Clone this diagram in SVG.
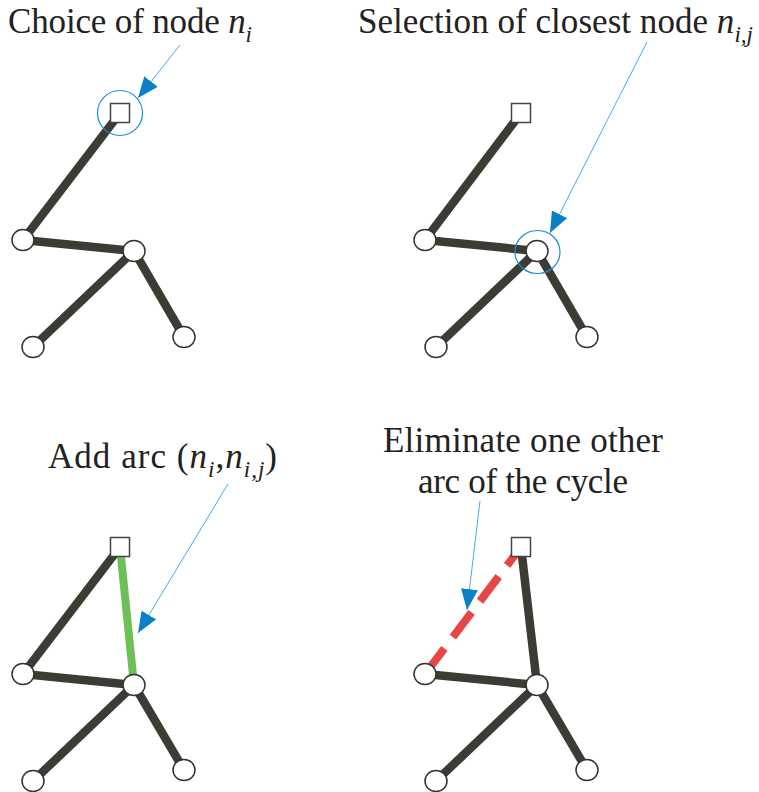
<svg xmlns="http://www.w3.org/2000/svg" width="759" height="792" viewBox="0 0 759 792">
<style>
.edge{stroke:#3c3c34;stroke-width:8.5;fill:none;stroke-linecap:butt}
.green{stroke:#6dbf58;stroke-width:8;fill:none}
.red{stroke:#e84545;stroke-width:8;fill:none;stroke-dasharray:31 14;stroke-dashoffset:8}
.node{fill:#fff;stroke:#333;stroke-width:1.5}
.sq{fill:#fff;stroke:#444;stroke-width:1.5}
.ring{fill:none;stroke:#1a8fd0;stroke-width:1.2}
.ptr{stroke:#45aee0;stroke-width:1;fill:none;marker-end:url(#ah)}
.lbl{font-family:"Liberation Serif","Times New Roman",serif;font-size:35px;fill:#222}
.m{font-style:italic}
.s{font-style:italic;font-size:23px}
</style>
<defs>
<marker id="ah" markerUnits="userSpaceOnUse" markerWidth="22" markerHeight="18" refX="21" refY="8.5" orient="auto">
<path d="M0,0 L21,8.5 L0,17 z" fill="#0a80c6"/>
</marker>
</defs>

<g id="connectors">
<line class="edge" x1="120" y1="113" x2="23" y2="240"/>
<line class="edge" x1="23" y1="240" x2="134" y2="251"/>
<line class="edge" x1="134" y1="251" x2="33" y2="347"/>
<line class="edge" x1="134" y1="251" x2="184" y2="337"/>
<line class="edge" x1="521" y1="113" x2="425" y2="240"/>
<line class="edge" x1="425" y1="240" x2="537" y2="251"/>
<line class="edge" x1="537" y1="251" x2="436" y2="347"/>
<line class="edge" x1="537" y1="251" x2="587" y2="337"/>
<line class="edge" x1="120" y1="547" x2="23" y2="674"/>
<line class="edge" x1="23" y1="674" x2="134" y2="685"/>
<line class="edge" x1="134" y1="685" x2="33" y2="781"/>
<line class="edge" x1="134" y1="685" x2="184" y2="770"/>
<line class="green" x1="120" y1="547" x2="134" y2="685"/>
<path class="red" d="M521,547 L425,674"/>
<line class="edge" x1="425" y1="674" x2="537" y2="685"/>
<line class="edge" x1="537" y1="685" x2="436" y2="781"/>
<line class="edge" x1="537" y1="685" x2="587" y2="770"/>
<line class="edge" x1="521" y1="547" x2="537" y2="685"/>
<line class="ptr" x1="180" y1="45" x2="138" y2="98"/>
<line class="ptr" x1="647" y1="42" x2="550" y2="233"/>
<line class="ptr" x1="228" y1="484" x2="138" y2="633"/>
<line class="ptr" x1="480" y1="501" x2="467" y2="610"/>
</g>

<g id="panel1">
<g id="p1-n0"><rect class="sq" x="110.5" y="103.5" width="19" height="19"/></g>
<g id="p1-n1"><ellipse class="node" cx="23" cy="240" rx="11" ry="10.5"/></g>
<g id="p1-n2"><ellipse class="node" cx="134" cy="251" rx="11" ry="10.5"/></g>
<g id="p1-n3"><ellipse class="node" cx="33" cy="347" rx="11" ry="10.5"/></g>
<g id="p1-n4"><ellipse class="node" cx="184" cy="337" rx="11" ry="10.5"/></g>
<circle class="ring" cx="120" cy="113" r="22.5"/>
<text class="lbl" x="8" y="33" textLength="244" lengthAdjust="spacing">Choice of node <tspan class="m">n</tspan><tspan class="s" dy="9">i</tspan></text>
</g>

<g id="panel2">
<g id="p2-n0"><rect class="sq" x="511.5" y="103.5" width="19" height="19"/></g>
<g id="p2-n1"><ellipse class="node" cx="425" cy="240" rx="11" ry="10.5"/></g>
<g id="p2-n2"><ellipse class="node" cx="537" cy="251" rx="11" ry="10.5"/></g>
<g id="p2-n3"><ellipse class="node" cx="436" cy="347" rx="11" ry="10.5"/></g>
<g id="p2-n4"><ellipse class="node" cx="587" cy="337" rx="11" ry="10.5"/></g>
<ellipse class="ring" cx="537.5" cy="252" rx="22.5" ry="21.5"/>
<text class="lbl" x="358" y="33" textLength="395" lengthAdjust="spacing">Selection of closest node <tspan class="m">n</tspan><tspan class="s" dy="9">i,j</tspan></text>
</g>

<g id="panel3">
<g id="p3-n0"><rect class="sq" x="110.5" y="537.5" width="19" height="19"/></g>
<g id="p3-n1"><ellipse class="node" cx="23" cy="674" rx="11" ry="10.5"/></g>
<g id="p3-n2"><ellipse class="node" cx="134" cy="685" rx="11" ry="10.5"/></g>
<g id="p3-n3"><ellipse class="node" cx="33" cy="781" rx="11" ry="10.5"/></g>
<g id="p3-n4"><ellipse class="node" cx="184" cy="770" rx="11" ry="10.5"/></g>
<text class="lbl" x="48" y="468" textLength="229" lengthAdjust="spacing">Add arc (<tspan class="m">n</tspan><tspan class="s" dy="9">i</tspan><tspan dy="-9">,</tspan><tspan class="m">n</tspan><tspan class="s" dy="9">i,j</tspan><tspan dy="-9">)</tspan></text>
</g>

<g id="panel4">
<g id="p4-n0"><rect class="sq" x="511.5" y="537.5" width="19" height="19"/></g>
<g id="p4-n1"><ellipse class="node" cx="425" cy="674" rx="11" ry="10.5"/></g>
<g id="p4-n2"><ellipse class="node" cx="537" cy="685" rx="11" ry="10.5"/></g>
<g id="p4-n3"><ellipse class="node" cx="436" cy="781" rx="11" ry="10.5"/></g>
<g id="p4-n4"><ellipse class="node" cx="587" cy="770" rx="11" ry="10.5"/></g>
<text class="lbl" x="383" y="452" textLength="280" lengthAdjust="spacing">Eliminate one other</text>
<text class="lbl" x="418" y="493" textLength="210" lengthAdjust="spacing">arc of the cycle</text>
</g>
</svg>
